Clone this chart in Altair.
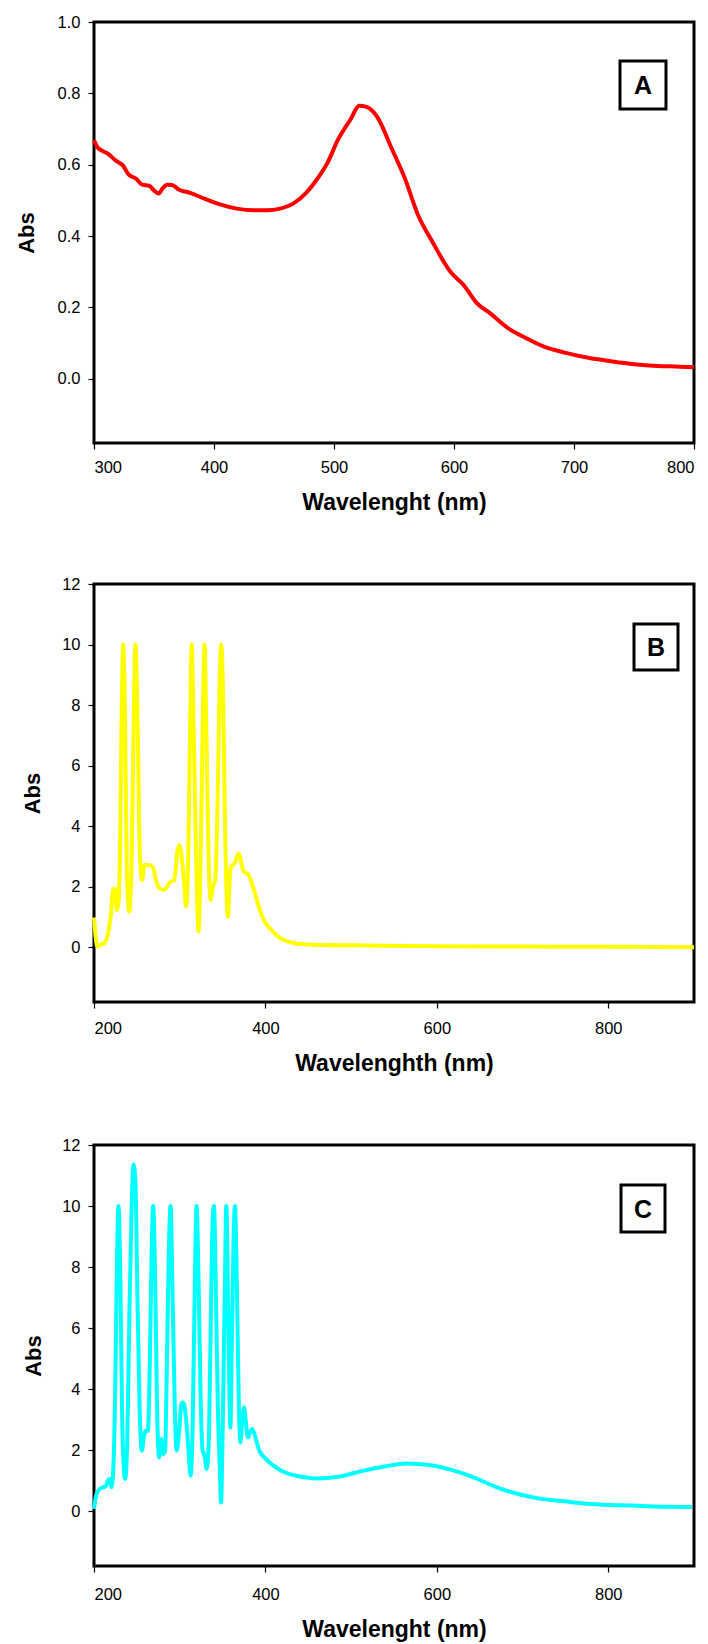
import altair as alt
import pandas as pd

# ---------------- Panel A (red) ----------------
wl_a = [300, 303, 308, 312, 318, 324, 329, 335, 340, 346, 350, 354, 357, 361, 365,
        371, 380, 392, 405, 419, 433, 444, 455, 466, 477, 486, 495, 503, 514, 521,
        527, 536, 548, 559, 570, 582, 597, 608, 619, 630, 645, 660, 675, 694, 713,
        732, 750, 769, 788, 800]
abs_a = [0.669, 0.648, 0.637, 0.630, 0.612, 0.598, 0.572, 0.561, 0.544, 0.541, 0.528,
         0.519, 0.533, 0.544, 0.543, 0.530, 0.521, 0.505, 0.489, 0.477, 0.4725, 0.4725,
         0.477, 0.491, 0.522, 0.560, 0.608, 0.668, 0.728, 0.765, 0.762, 0.734, 0.646,
         0.562, 0.459, 0.384, 0.300, 0.263, 0.212, 0.184, 0.142, 0.114, 0.090, 0.072,
         0.058, 0.0485, 0.041, 0.036, 0.034, 0.032]

# ---------------- Panel B (yellow) ----------------
wl_b = [200, 204, 208, 212.5, 215.6, 219.5, 222.7, 224.6, 226.6, 228.5, 230.5, 232.4,
        234, 236, 238.3, 241, 243.7, 246, 248.4, 250.8, 253.5, 256.2, 258.6, 262.5,
        268.4, 272.3, 276.2, 282, 285.9, 289, 293.7, 296.9, 299.6, 302.3, 305.5, 307.4,
        310, 312, 314, 316.4, 319.5, 321.9, 324.2, 326.6, 328.9, 331.2, 333.6, 335.9,
        338.7, 341.4, 344.5, 346.5, 348.4, 350.8, 353.1, 356.2, 359, 361.3, 364, 367.2,
        369.1, 371.9, 375, 379.7, 383.6, 388.3, 393.4, 399.2, 407, 414.8, 422.6, 434.4,
        446, 470, 500, 600, 700, 800, 900]
abs_b = [0.99, 0.03, 0.09, 0.16, 0.36, 1.02, 1.95, 1.90, 1.24, 1.46, 3.43, 8.03,
         10.0, 8.03, 2.55, 1.18, 2.55, 6.94, 10.0, 7.48, 3.10, 2.22, 2.72, 2.72,
         2.66, 2.22, 1.95, 1.90, 2.03, 2.17, 2.22, 3.10, 3.38, 2.99, 2.00, 1.35,
         3.10, 6.94, 10.0, 6.94, 2.55, 0.53, 2.55, 6.94, 10.0, 6.94, 3.10, 1.57,
         2.00, 2.22, 5.29, 8.58, 10.0, 8.03, 3.65, 1.02, 2.55, 2.72, 2.77, 3.05,
         3.10, 2.77, 2.50, 2.42, 2.17, 1.73, 1.24, 0.85, 0.58, 0.36, 0.23, 0.14,
         0.11, 0.08, 0.07, 0.04, 0.03, 0.02, 0.01]

# ---------------- Panel C (cyan) ----------------
wl_c = [200, 202, 205, 209.7, 213.6, 216, 218.3, 220.3, 222.2, 224.6, 226.5, 228.5,
        230.8, 233.1, 236.3, 238.6, 241, 243.7, 246, 248.3, 250.7, 253.4, 255.8,
        258.1, 260.4, 262.8, 265.1, 267, 269, 271.4, 273.7, 276, 278.4, 280.7, 283,
        285, 287, 289.3, 291.6, 294, 296.3, 299.4, 301.8, 304.1, 307.2, 310.3, 312.7,
        315, 317.4, 319.7, 322, 324.4, 326.7, 329, 331.4, 333.7, 336.1, 338, 340,
        342.3, 344.7, 346.6, 348.2, 350.1, 352.5, 354.4, 356.8, 359.1, 361, 363,
        364.5, 366.9, 368.8, 370.8, 372.7, 375.1, 377, 379.7, 382, 384.8, 387.2,
        389.9, 393, 398.8, 404.7, 412.5, 420.3, 428.1, 435.9, 447.6, 460, 486, 512,
        538.6, 564.8, 591, 617, 643.6, 670, 696, 722, 748.6, 775, 801, 827, 853.5, 898]
abs_c = [0.07, 0.45, 0.67, 0.78, 0.80, 0.99, 1.05, 0.78, 1.21, 3.72, 7.54, 10.0,
         7.54, 2.63, 1.05, 2.09, 5.91, 9.73, 11.36, 10.82, 7.00, 3.18, 1.98,
         2.41, 2.63, 2.63, 4.81, 8.09, 10.0, 7.54, 3.18, 1.76, 2.36, 1.87, 1.98,
         4.81, 8.09, 10.0, 7.22, 3.72, 1.98, 2.63, 3.50, 3.56, 3.07, 1.98, 1.16,
         2.63, 7.00, 10.0, 7.54, 3.72, 1.98, 1.81, 1.38, 2.09, 5.91, 9.18, 10.0,
         7.00, 3.18, 1.54, 0.28, 2.63, 7.00, 10.0, 6.02, 2.74, 5.91, 9.18,
         10.0, 7.00, 3.72, 2.25, 2.85, 3.40, 2.96, 2.41, 2.58, 2.69, 2.52,
         2.25, 1.98, 1.76, 1.59, 1.43, 1.30, 1.21, 1.16, 1.10, 1.07, 1.13, 1.31,
         1.46, 1.56, 1.51, 1.35, 1.10, 0.78, 0.55, 0.40, 0.32, 0.24, 0.20, 0.18, 0.15, 0.13]

FONT = "Liberation Sans"


def panel(wl, ab, color, letter, xdom, xvals, ydom, yvals, yfmt, xtitle,
          height, box, lab_pad_x, title_pad_x, title_pad_y):
    df = pd.DataFrame({"wl": wl, "abs": ab})
    line = alt.Chart(df).mark_line(color=color, strokeWidth=4, interpolate="monotone").encode(
        x=alt.X("wl:Q",
                scale=alt.Scale(domain=xdom, nice=False, zero=False),
                axis=alt.Axis(values=xvals, title=xtitle, format="d",
                              labelPadding=lab_pad_x, titlePadding=title_pad_x)),
        y=alt.Y("abs:Q",
                scale=alt.Scale(domain=ydom, nice=False, zero=False),
                axis=alt.Axis(values=yvals, title="Abs", format=yfmt,
                              labelPadding=8, titlePadding=title_pad_y)),
    )
    lab = pd.DataFrame({"label": [letter]})
    x0, x1, y0, y1 = box
    rect = alt.Chart(lab).mark_rect(fill="white", stroke="black", strokeWidth=3).encode(
        x=alt.value(x0), x2=alt.value(x1), y=alt.value(y0), y2=alt.value(y1))
    txt = alt.Chart(lab).mark_text(font=FONT, fontSize=25, fontWeight="bold", color="black",
                                   align="center", baseline="middle").encode(
        text="label:N", x=alt.value((x0 + x1) / 2), y=alt.value((y0 + y1) / 2 + 1))
    return alt.layer(line, rect, txt).properties(width=600, height=height)


a = panel(wl_a, abs_a, "#FF0000", "A", [300, 800], [300, 400, 500, 600, 700, 800],
          [-0.18, 1.0], [0, 0.2, 0.4, 0.6, 0.8, 1.0], ".1f", "Wavelenght (nm)",
          421, (526, 572, 39, 87), 10, 16, 19)
b = panel(wl_b, abs_b, "#FFFF00", "B", [200, 900], [200, 400, 600, 800],
          [-1.8, 12], [0, 2, 4, 6, 8, 10, 12], "d", "Wavelenghth (nm)",
          418, (540, 584, 40, 86), 12, 16, 17)
c = panel(wl_c, abs_c, "#00FFFF", "C", [200, 900], [200, 400, 600, 800],
          [-1.8, 12], [0, 2, 4, 6, 8, 10, 12], "d", "Wavelenght (nm)",
          421, (527, 571, 40, 87), 14, 16, 16)

chart = alt.vconcat(a, b, c, spacing=58).properties(
    padding={"left": 13, "top": 12, "right": 3, "bottom": 0},
    background="white",
).configure_view(
    stroke="black", strokeWidth=3
).configure_axis(
    domain=False, grid=False, ticks=True, tickColor="black", tickWidth=1.2, tickSize=6,
    labelFont=FONT, labelFontSize=16.5, labelColor="black",
    titleFont=FONT, titleFontWeight="bold", titleColor="black",
).configure_axisX(
    titleFontSize=23
).configure_axisY(
    titleFontSize=22
)

chart.save("out.html", embed_options={"renderer": "svg", "actions": False})
